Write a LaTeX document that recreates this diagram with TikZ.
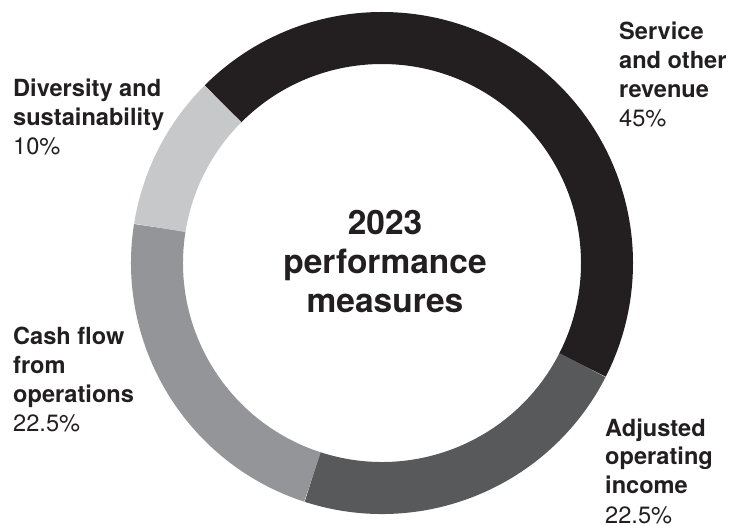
\documentclass[tikz,border=0pt]{standalone}
\usepackage{fontspec}
\setmainfont{TeX Gyre Heros}
\usepackage{tikz}
\usetikzlibrary{positioning}

\definecolor{servicegray}{HTML}{231F20}
\definecolor{incomegray}{HTML}{58595B}
\definecolor{cashgray}{HTML}{939598}
\definecolor{diversitygray}{HTML}{C7C8CA}

\begin{document}
\begin{tikzpicture}[x=1pt, y=1pt,
    ring/.style={line width=52pt},
    label/.style={inner sep=0pt, align=left, anchor=base west, text=servicegray,
      font=\fontsize{23.6}{29}\selectfont\bfseries},
    title/.style={inner sep=0pt, align=center, text=servicegray,
      font=\fontsize{33.5}{39}\selectfont\bfseries}]
  \useasboundingbox (0,0) rectangle (731,525);
  \coordinate (c) at (382,262);

  % ring segments, clockwise from the top left
  \draw[ring, servicegray] ([shift={(135:225)}]c) arc[start angle=135, end angle=-27, radius=225];
  \draw[ring, incomegray] ([shift={(-27:225)}]c) arc[start angle=-27, end angle=-108, radius=225];
  \draw[ring, cashgray] ([shift={(-108:225)}]c) arc[start angle=-108, end angle=-189, radius=225];
  \draw[ring, diversitygray] ([shift={(171:225)}]c) arc[start angle=171, end angle=135, radius=225];

  \node[title] (t) at (385,263) {2023\\performance\\measures};

  % labels sit on the baseline of their last line
  \node[label] (s) at (619,398) {Service\\and other\\revenue\\\mdseries 45\%};
  \node[label] (d) at (13,370) {Diversity and\\sustainability\\\mdseries 10\%};
  \node[label] (f) at (13,93) {Cash flow\\from\\operations\\\mdseries 22.5\%};
  \node[label] (a) at (605,2) {Adjusted\\operating\\income\\\mdseries 22.5\%};
\end{tikzpicture}
\end{document}
